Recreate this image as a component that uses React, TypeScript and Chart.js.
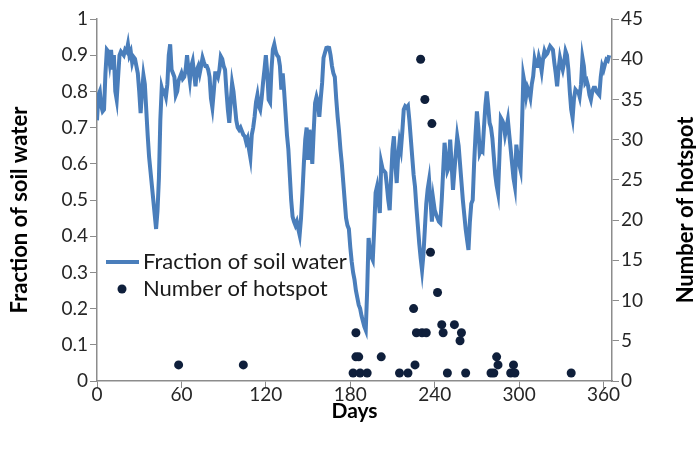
import React, { useEffect, useRef } from "react";
import { Chart, registerables } from "chart.js";

Chart.register(...registerables);

// Daily fraction of soil water, day 0 .. 364
const soilWater: number[] = [
  0.72, 0.79, 0.80, 0.76, 0.745, 0.75, 0.85, 0.915, 0.91, 0.88,
  0.915, 0.86, 0.90, 0.80, 0.777, 0.84, 0.90, 0.91, 0.905, 0.90,
  0.915, 0.91, 0.93, 0.90, 0.91, 0.88, 0.895, 0.89, 0.87, 0.85,
  0.80, 0.74, 0.80, 0.845, 0.82, 0.75, 0.68, 0.62, 0.58, 0.54,
  0.50, 0.46, 0.42, 0.47, 0.56, 0.72, 0.81, 0.795, 0.80, 0.785,
  0.82, 0.90, 0.93, 0.86, 0.85, 0.84, 0.79, 0.80, 0.83, 0.84,
  0.85, 0.835, 0.84, 0.86, 0.90, 0.86, 0.83, 0.87, 0.884, 0.85,
  0.814, 0.86, 0.87, 0.85, 0.87, 0.893, 0.88, 0.87, 0.87, 0.86,
  0.84, 0.78, 0.755, 0.80, 0.85, 0.85, 0.84, 0.86, 0.897, 0.89,
  0.87, 0.86, 0.80, 0.75, 0.713, 0.77, 0.823, 0.80, 0.76, 0.72,
  0.70, 0.694, 0.70, 0.69, 0.68, 0.676, 0.66, 0.67, 0.64, 0.617,
  0.68, 0.70, 0.73, 0.77, 0.79, 0.76, 0.75, 0.78, 0.824, 0.86,
  0.90, 0.85, 0.777, 0.77, 0.86, 0.916, 0.93, 0.91, 0.90, 0.895,
  0.87, 0.805, 0.85, 0.80, 0.74, 0.68, 0.64, 0.57, 0.50, 0.454,
  0.44, 0.43, 0.44, 0.42, 0.403, 0.45, 0.52, 0.60, 0.667, 0.70,
  0.611, 0.694, 0.66, 0.60, 0.69, 0.768, 0.785, 0.77, 0.73, 0.78,
  0.824, 0.893, 0.907, 0.92, 0.921, 0.92, 0.90, 0.87, 0.85, 0.84,
  0.78, 0.73, 0.69, 0.64, 0.60, 0.55, 0.50, 0.45, 0.43, 0.42,
  0.37, 0.33, 0.30, 0.28, 0.25, 0.23, 0.21, 0.20, 0.18, 0.165,
  0.15, 0.14, 0.25, 0.395, 0.36, 0.343, 0.334, 0.42, 0.52, 0.537,
  0.50, 0.464, 0.603, 0.585, 0.58, 0.575, 0.54, 0.50, 0.472, 0.56,
  0.64, 0.676, 0.60, 0.547, 0.62, 0.66, 0.64, 0.69, 0.75, 0.759,
  0.755, 0.76, 0.72, 0.67, 0.62, 0.57, 0.537, 0.48, 0.43, 0.38,
  0.34, 0.306, 0.35, 0.42, 0.49, 0.53, 0.555, 0.50, 0.44, 0.50,
  0.472, 0.46, 0.45, 0.44, 0.436, 0.50, 0.58, 0.658, 0.62, 0.58,
  0.59, 0.667, 0.60, 0.528, 0.58, 0.63, 0.676, 0.65, 0.60, 0.55,
  0.50, 0.46, 0.42, 0.39, 0.362, 0.44, 0.49, 0.50, 0.60, 0.68,
  0.745, 0.70, 0.63, 0.64, 0.635, 0.70, 0.76, 0.80, 0.76, 0.713,
  0.70, 0.67, 0.62, 0.57, 0.54, 0.519, 0.62, 0.727, 0.72, 0.71,
  0.68, 0.70, 0.722, 0.68, 0.64, 0.60, 0.56, 0.537, 0.653, 0.62,
  0.60, 0.583, 0.70, 0.842, 0.82, 0.787, 0.81, 0.80, 0.783, 0.82,
  0.842, 0.888, 0.87, 0.87, 0.895, 0.88, 0.856, 0.89, 0.911, 0.90,
  0.905, 0.915, 0.925, 0.92, 0.915, 0.88, 0.85, 0.814, 0.86, 0.893,
  0.875, 0.86, 0.88, 0.911, 0.90, 0.86, 0.80, 0.75, 0.727, 0.78,
  0.805, 0.80, 0.80, 0.785, 0.82, 0.893, 0.87, 0.824, 0.83, 0.815,
  0.79, 0.777, 0.80, 0.81, 0.81, 0.80, 0.795, 0.79, 0.84, 0.87,
  0.86, 0.875, 0.888, 0.885, 0.90,
];
const soilDays: number[] = soilWater.map((_, i) => i);

// Hotspot observations
const hotspotDays: number[] = [
  58, 104, 182, 184, 184, 186, 187, 192, 202, 215, 221, 225, 226, 227, 230,
  231, 233, 234, 237, 238, 242, 245, 246, 249, 254, 258, 259, 262, 280, 282,
  284, 285, 294, 296, 297, 337,
];
const hotspotCounts: number[] = [
  2, 2, 1, 6, 3, 3, 1, 1, 3, 1, 1, 9, 2, 6, 40,
  6, 35, 6, 16, 32, 11, 7, 6, 1, 7, 5, 6, 1, 1, 1,
  3, 2, 1, 2, 1, 1,
];

const seriesNames: string[] = ["Fraction of soil water", "Number of hotspot"];
const axisTitles = { x: "Days", left: "Fraction of soil water", right: "Number of hotspot" };

const LINE_COLOR = "#4A7EBB";
const DOT_COLOR = "#0F1F3B";
const AXIS_COLOR = "#8C8C8C";
const FONT = "Lato";

export default function App() {
  const canvasRef = useRef<HTMLCanvasElement | null>(null);

  useEffect(() => {
    document.body.style.margin = "0";
    const canvas = canvasRef.current;
    if (!canvas) return;

    const overlay = {
      id: "overlay",
      afterDraw(chart: any) {
        const { ctx, chartArea } = chart;
        ctx.save();
        // legend
        const lx = chartArea.left;
        const ly1 = chartArea.top + 243;
        const ly2 = chartArea.top + 270;
        ctx.strokeStyle = LINE_COLOR;
        ctx.lineWidth = 4;
        ctx.beginPath();
        ctx.moveTo(lx + 9, ly1);
        ctx.lineTo(lx + 42, ly1);
        ctx.stroke();
        ctx.fillStyle = DOT_COLOR;
        ctx.beginPath();
        ctx.arc(lx + 25, ly2, 4.5, 0, Math.PI * 2);
        ctx.fill();
        ctx.fillStyle = "#1a1a1a";
        ctx.font = `22px ${FONT}`;
        ctx.textBaseline = "middle";
        ctx.textAlign = "left";
        ctx.fillText(seriesNames[0], lx + 46, ly1);
        ctx.fillText(seriesNames[1], lx + 46, ly2);
        // axis titles (both read bottom to top)
        const cy = (chartArea.top + chartArea.bottom) / 2 + 10;
        ctx.font = `bold 22px ${FONT}`;
        ctx.fillStyle = "#000";
        ctx.textAlign = "center";
        ctx.save();
        ctx.translate(20, cy);
        ctx.rotate(-Math.PI / 2);
        ctx.fillText(axisTitles.left, 0, 0);
        ctx.restore();
        ctx.translate(686, cy);
        ctx.rotate(-Math.PI / 2);
        ctx.fillText(axisTitles.right, 0, 0);
        ctx.restore();
      },
    };

    const tickFont = { family: FONT, size: 19 };
    const titleFont = { family: FONT, size: 21, weight: "bold" as const };
    const gridOpts = {
      display: true,
      drawOnChartArea: false,
      drawTicks: true,
      tickLength: 7,
      color: AXIS_COLOR,
    };

    const chart = new Chart(canvas, {
      type: "line",
      data: {
        datasets: [
          {
            type: "line",
            label: seriesNames[0],
            data: soilDays.map((d, i) => ({ x: d, y: soilWater[i] })),
            borderColor: LINE_COLOR,
            backgroundColor: LINE_COLOR,
            borderWidth: 4,
            pointRadius: 0,
            tension: 0,
            yAxisID: "y",
            order: 2,
          },
          {
            type: "scatter",
            label: seriesNames[1],
            data: hotspotDays.map((d, i) => ({ x: d, y: hotspotCounts[i] })),
            backgroundColor: DOT_COLOR,
            borderColor: DOT_COLOR,
            pointRadius: 4.5,
            pointBorderWidth: 0,
            yAxisID: "y2",
            order: 1,
          },
        ],
      },
      options: {
        animation: false,
        responsive: false,
        devicePixelRatio: 1,
        layout: { padding: { top: 19, left: 0, right: 0, bottom: 0 } },
        plugins: {
          legend: { display: false },
          tooltip: { enabled: false },
        },
        scales: {
          x: {
            type: "linear",
            position: "bottom",
            min: 0,
            max: 366,
            ticks: {
              stepSize: 60,
              includeBounds: false,
              color: "#262626",
              font: tickFont,
              padding: -5,
              maxRotation: 0,
            },
            grid: gridOpts,
            border: { color: AXIS_COLOR, width: 1.5 },
            title: {
              display: true,
              text: axisTitles.x,
              color: "#000",
              font: titleFont,
              padding: { top: 0, bottom: 28 },
            },
            afterFit(scale: any) {
              scale.height = 71;
            },
          },
          y: {
            type: "linear",
            position: "left",
            min: 0,
            max: 1,
            ticks: {
              stepSize: 0.1,
              color: "#262626",
              font: tickFont,
              padding: 2,
              callback: (v: any) => String(Number(Number(v).toFixed(1))),
            },
            grid: gridOpts,
            border: { color: AXIS_COLOR, width: 1.5 },
            afterFit(scale: any) {
              scale.width = 97;
            },
          },
          y2: {
            type: "linear",
            position: "right",
            min: 0,
            max: 45,
            ticks: {
              stepSize: 5,
              color: "#262626",
              font: tickFont,
              padding: 2,
            },
            grid: gridOpts,
            border: { color: AXIS_COLOR, width: 1.5 },
            afterFit(scale: any) {
              scale.width = 84;
            },
          },
        },
      },
      plugins: [overlay],
    });

    return () => {
      chart.destroy();
    };
  }, []);

  return (
    <div style={{ width: 696, height: 452, position: "relative", background: "#fff" }}>
      <canvas ref={canvasRef} width={696} height={452} />
    </div>
  );
}
